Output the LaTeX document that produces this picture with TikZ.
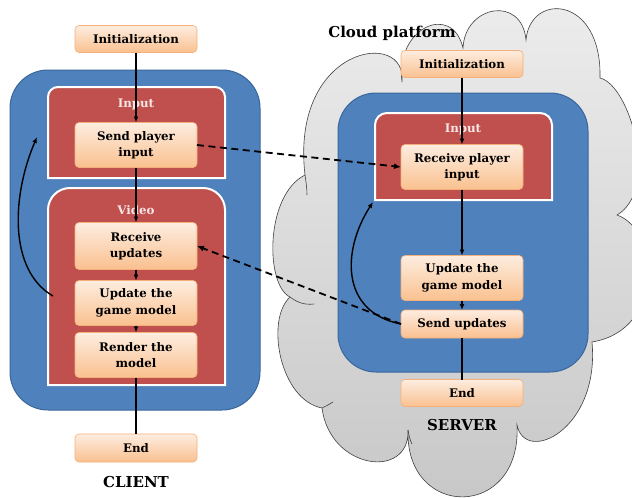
\documentclass[tikz,border=0pt]{standalone}
\usepackage{fontspec}
\setmainfont{DejaVu Serif}
\usetikzlibrary{arrows.meta}

\definecolor{blockblue}{HTML}{4F81BD}
\definecolor{blockblueline}{HTML}{3A679C}
\definecolor{blockred}{HTML}{C0504D}
\definecolor{boxtop}{HTML}{FDEDE0}
\definecolor{boxbottom}{HTML}{FAC08F}
\definecolor{boxline}{HTML}{F4B07A}
\definecolor{cloudtop}{HTML}{EDEDED}
\definecolor{cloudbottom}{HTML}{C6C6C6}
\definecolor{cloudline}{HTML}{404040}
\definecolor{labelpink}{HTML}{F7E6E5}

\begin{document}
\begin{tikzpicture}[y=1pt, x=1pt, yscale=-1, inner sep=0pt, outer sep=0pt,
  procbox/.style={draw=boxline, line width=0.6pt, top color=boxtop,
    bottom color=boxbottom, rounded corners=4pt, minimum width=122pt,
    align=center, font=\fontsize{11.8}{16.5}\selectfont\bfseries},
  sectlabel/.style={text=labelpink, font=\fontsize{11.8}{14}\selectfont\bfseries},
  sidetitle/.style={font=\fontsize{15}{18}\selectfont\bfseries},
  flow/.style={draw=black, line width=1.4pt, -{Latex[length=6pt,width=5pt]}},
  flowline/.style={draw=black, line width=1.4pt},
  msg/.style={draw=black, line width=1.8pt, dash pattern=on 7pt off 4.5pt,
    -{Latex[length=7pt,width=6pt]}}]
\useasboundingbox (0,0) rectangle (632,498);

% cloud platform
\path[draw=cloudline, line width=0.6pt, top color=cloudtop, bottom color=cloudbottom]
  (305,175) .. controls (290,45) and (408,28) .. (402,82)
  .. controls (395,28) and (452,2) .. (463,48)
  .. controls (465,5) and (522,-5) .. (526,40)
  .. controls (530,-8) and (602,-5) .. (600,78)
  .. controls (630,85) and (660,190) .. (617,215)
  .. controls (660,230) and (665,330) .. (592,342)
  .. controls (600,430) and (525,465) .. (517,425)
  .. controls (522,520) and (405,520) .. (408,430)
  .. controls (410,480) and (330,470) .. (322,408)
  .. controls (280,400) and (265,320) .. (290,297)
  .. controls (265,285) and (265,195) .. (305,175) -- cycle;
\path[draw=cloudline, line width=0.6pt]
  (290,297) .. controls (298,303) and (305,305) .. (314,304);
\path[draw=cloudline, line width=0.6pt]
  (322,408) .. controls (326,406) and (330,404) .. (333,402);
\path[draw=cloudline, line width=0.6pt]
  (408,430) .. controls (409,436) and (410,440) .. (412,444);
\path[draw=cloudline, line width=0.6pt]
  (305,175) .. controls (306,182) and (307,188) .. (307,195);
\node[sidetitle] (cloudtitle) at (392,33) {Cloud platform};

% client
\path[draw=blockblueline, fill=blockblue, line width=1pt, rounded corners=38pt]
  (10,70) rectangle (260,410);
\path[draw=white, fill=blockred, line width=2pt]
  (48,178) -- (48,97) arc(180:270:10) -- (215,87) arc(270:360:10) -- (225,178) -- cycle;
\path[draw=white, fill=blockred, line width=2pt]
  (48,385) -- (48,210) arc(180:270:22) -- (203,188) arc(270:360:22) -- (225,385) -- cycle;
\node[sectlabel] (cinputlabel) at (136,104) {Input};
\node[sectlabel] (cvideolabel) at (136,210) {Video};

\node[procbox, minimum height=27pt] (cinit) at (136,39) {Initialization};
\node[procbox, minimum height=45pt] (csend) at (136,145) {Send player\\input};
\node[procbox, minimum height=47pt] (crecv) at (136,246) {Receive\\updates};
\node[procbox, minimum height=45pt] (cupd) at (136,303) {Update the\\game model};
\node[procbox, minimum height=45pt] (crend) at (136,355) {Render the\\model};
\node[procbox, minimum height=28pt] (cfin) at (136,448) {End};
\node[sidetitle] (clienttitle) at (136,482) {CLIENT};

\draw[flow] (cinit) -- (csend);
\draw[flow] (csend) -- (crecv);
\draw[flow] (crecv) -- (cupd);
\draw[flow] (cupd) -- (crend);
\draw[flowline] (crend) -- (cfin);
\coordinate (cloopstart) at (53,296);
\coordinate (cloopend) at (37,137);
\draw[flow] (cloopstart) .. controls (8,270) and (12,195) .. (cloopend);

% server
\path[draw=blockblueline, fill=blockblue, line width=1pt, rounded corners=38pt]
  (338,93) rectangle (588,372);
\path[draw=white, fill=blockred, line width=2pt]
  (375,200) -- (375,125) arc(180:270:12) -- (540,113) arc(270:360:12) -- (552,200) -- cycle;
\node[sectlabel] (sinputlabel) at (463,129) {Input};

\node[procbox, minimum height=27pt] (sinit) at (462,64) {Initialization};
\node[procbox, minimum height=45pt] (srecv) at (462,167) {Receive player\\input};
\node[procbox, minimum height=45pt] (supd) at (462,278) {Update the\\game model};
\node[procbox, minimum height=28pt] (ssend) at (462,324) {Send updates};
\node[procbox, minimum height=27pt] (sfin) at (462,393) {End};
\node[sidetitle] (servertitle) at (462,425) {SERVER};

\draw[flow] (sinit) -- (srecv);
\draw[flow] (srecv) -- (supd);
\draw[flow] (supd) -- (ssend);
\draw[flowline] (ssend) -- (sfin);
\coordinate (sloopend) at (373,202);
\draw[flow] (ssend.west) .. controls (340,312) and (342,250) .. (sloopend);

% messages
\draw[msg] (csend.east) -- (srecv.west);
\draw[msg] (ssend.west) -- (crecv.east);
\end{tikzpicture}
\end{document}
